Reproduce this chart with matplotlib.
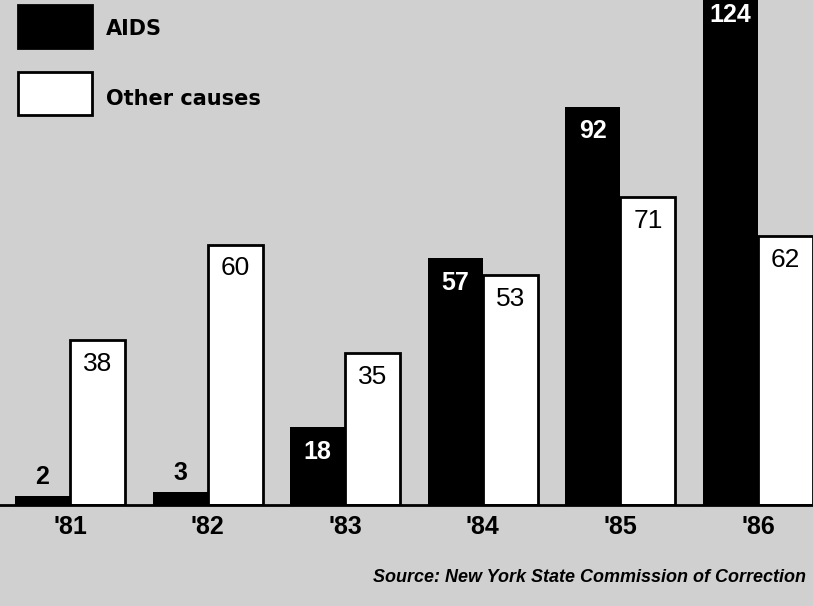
import matplotlib
matplotlib.use("Agg")
import matplotlib.pyplot as plt
from matplotlib.patches import Rectangle

plt.rcParams['font.family'] = ['Liberation Sans', 'DejaVu Sans']

years = ["'81", "'82", "'83", "'84", "'85", "'86"]
aids = [2, 3, 18, 57, 92, 124]
other = [38, 60, 35, 53, 71, 62]

bg = '#d0d0d0'
fig = plt.figure(figsize=(8.13, 6.06), dpi=100, facecolor=bg)
W, H = 813, 606
# axes: whole width, from the top edge down to the baseline (y=505 px)
ax = fig.add_axes([0, (H - 505) / H, 1, 505 / H])
ax.set_facecolor(bg)
ymax = 116.6

x = list(range(len(years)))
w = 0.4
xa = [i - w / 2 for i in x]
xo = [i + w / 2 for i in x]
ax.bar(xa, aids, width=w, color='black', edgecolor='black', linewidth=0)
ax.bar(xo, other, width=w, color='white', edgecolor='black', linewidth=2)

for xi, v in zip(xa, aids):
    if v < 10:
        ax.annotate(str(v), (xi, v), xytext=(0, 5), textcoords='offset points',
                    ha='center', va='bottom', fontsize=18, fontweight='bold', color='black')
    else:
        # the tallest bar runs off the top, keep its label just inside the frame
        yv = min(v, ymax)
        off = -9 if v <= ymax else -2
        ax.annotate(str(v), (xi, yv), xytext=(0, off), textcoords='offset points',
                    ha='center', va='top', fontsize=18, fontweight='bold', color='white')
for xi, v in zip(xo, other):
    ax.annotate(str(v), (xi, v), xytext=(0, -8), textcoords='offset points',
                ha='center', va='top', fontsize=19, color='black')

ax.set_xlim(-0.509, 5.40)
ax.set_ylim(0, ymax)
ax.set_xticks(x)
ax.set_xticklabels(years, fontsize=18, fontweight='bold')
ax.tick_params(axis='x', length=0, pad=7)
ax.set_yticks([])
for s in ['top', 'left', 'right']:
    ax.spines[s].set_visible(False)
ax.spines['bottom'].set_linewidth(2)

# legend drawn in pixel coordinates
def px(x0, y0):
    return x0 / W, 1 - y0 / H

lx, lw, lh = 18, 74, 43
fig.patches.append(Rectangle(px(lx, 48), lw / W, lh / H, transform=fig.transFigure,
                             facecolor='black', edgecolor='black', lw=2))
fig.patches.append(Rectangle(px(lx, 115), lw / W, lh / H, transform=fig.transFigure,
                             facecolor='white', edgecolor='black', lw=2))
fig.text(*px(106, 29), 'AIDS', fontsize=15, fontweight='bold', va='center', ha='left',
         family='DejaVu Sans')
fig.text(*px(106, 99), 'Other causes', fontsize=15, fontweight='bold', va='center', ha='left',
         family='DejaVu Sans')

fig.text(*px(373, 578), 'Source: New York State Commission of Correction',
         fontsize=13, fontweight='bold', fontstyle='italic', va='center', ha='left')

fig.savefig('out.png', dpi=100, facecolor=bg)
